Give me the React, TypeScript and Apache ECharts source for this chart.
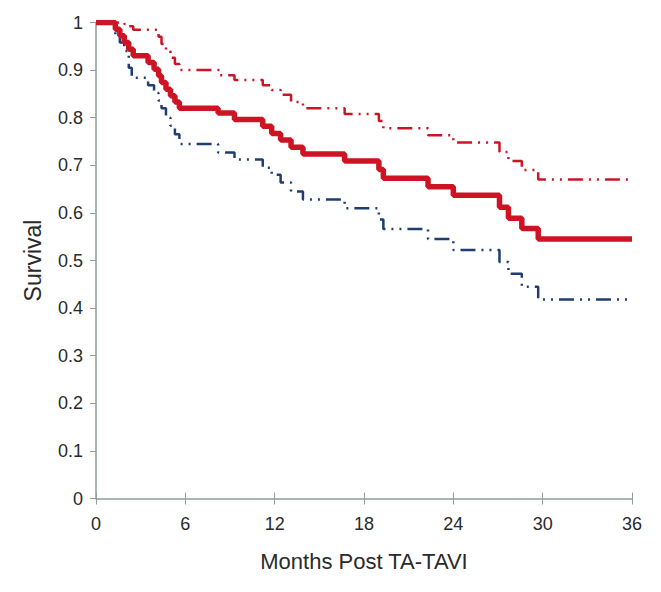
import React, { useEffect, useRef } from "react";
import * as echarts from "echarts";

// Kaplan-Meier estimate (months, survival)
const survTimes = [0, 1.3, 1.6, 1.9, 2.2, 2.5, 3.5, 3.9, 4.2, 4.4, 4.7, 5.0, 5.3, 5.6, 8.2, 9.3, 11.2, 11.8, 12.4, 13.1, 13.9, 16.7, 19.0, 19.3, 22.3, 24.0, 27.1, 27.7, 28.6, 29.7, 36];
const survValues = [1.0, 0.986, 0.972, 0.958, 0.944, 0.93, 0.916, 0.902, 0.888, 0.874, 0.86, 0.846, 0.833, 0.82, 0.81, 0.796, 0.782, 0.767, 0.753, 0.738, 0.724, 0.709, 0.691, 0.673, 0.655, 0.637, 0.612, 0.589, 0.567, 0.545, 0.545];

// Upper confidence limit
const upperTimes = [0, 1.9, 2.2, 2.5, 4.2, 4.4, 4.7, 5.0, 5.3, 5.6, 8.3, 9.3, 11.2, 11.8, 12.4, 13.1, 13.9, 16.7, 19.0, 19.3, 22.3, 24.0, 27.1, 27.7, 28.6, 29.7, 36];
const upperValues = [1.0, 0.997, 0.992, 0.985, 0.97, 0.955, 0.94, 0.926, 0.913, 0.9, 0.889, 0.879, 0.868, 0.858, 0.848, 0.833, 0.82, 0.808, 0.793, 0.778, 0.763, 0.748, 0.728, 0.709, 0.69, 0.67, 0.67];

// Lower confidence limit
const lowerTimes = [0, 1.3, 1.6, 1.9, 2.2, 2.4, 3.5, 3.9, 4.2, 4.4, 4.7, 5.0, 5.3, 5.6, 8.2, 9.3, 11.2, 11.8, 12.4, 13.1, 13.9, 16.7, 19.0, 19.3, 22.3, 24.0, 27.1, 27.7, 28.6, 29.7, 36];
const lowerValues = [1.0, 0.975, 0.958, 0.94, 0.905, 0.884, 0.868, 0.852, 0.836, 0.82, 0.8, 0.783, 0.765, 0.745, 0.727, 0.712, 0.695, 0.68, 0.664, 0.645, 0.628, 0.61, 0.586, 0.566, 0.545, 0.522, 0.497, 0.472, 0.445, 0.418, 0.418];

const xTicks = [0, 6, 12, 18, 24, 30, 36];
const yTickStep = 0.1;

const pairs = (t: number[], v: number[]) => t.map((x, i) => [x, v[i]]);

const FONT = "'Liberation Sans', Arial, sans-serif";
const AXIS_COLOR = "#8e9e9c";
const TEXT_COLOR = "#2a2a2a";
const RED = "#cc1424";
const NAVY = "#1f3d73";
const DASH = [15, 6, 2, 6, 2, 6];

export default function App() {
  const ref = useRef<HTMLDivElement>(null);
  useEffect(() => {
    document.body.style.margin = "0";
    const chart = echarts.init(ref.current!, null, { renderer: "svg" });
    chart.setOption({
      animation: false,
      backgroundColor: "#ffffff",
      grid: { left: 96, right: 29, top: 22.5, bottom: 93.5, containLabel: false },
      xAxis: [
        {
          type: "value",
          min: xTicks[0],
          max: xTicks[xTicks.length - 1],
          interval: 6,
          position: "bottom",
          name: "Months Post TA-TAVI",
          nameLocation: "middle",
          nameGap: 52,
          nameTextStyle: { fontFamily: FONT, fontSize: 22, color: TEXT_COLOR },
          axisLine: { show: true, onZero: false, lineStyle: { color: AXIS_COLOR, width: 1.5 } },
          axisTick: { show: true, inside: false, length: 6, lineStyle: { color: AXIS_COLOR, width: 1 } },
          axisLabel: { fontFamily: FONT, fontSize: 18, color: TEXT_COLOR, margin: 16 },
          splitLine: { show: false },
        },
        {
          type: "value",
          min: xTicks[0],
          max: xTicks[xTicks.length - 1],
          interval: 6,
          position: "bottom",
          offset: 0,
          axisLine: { show: false },
          axisTick: { show: true, inside: true, length: 6, lineStyle: { color: AXIS_COLOR, width: 1 } },
          axisLabel: { show: false },
          splitLine: { show: false },
        },
      ],
      yAxis: {
        type: "value",
        min: 0,
        max: 1,
        interval: yTickStep,
        name: "Survival",
        nameLocation: "middle",
        nameGap: 52,
        nameRotate: 90,
        nameTextStyle: { fontFamily: FONT, fontSize: 23, color: TEXT_COLOR },
        axisLine: { show: true, lineStyle: { color: AXIS_COLOR, width: 1.5 } },
        axisTick: { show: true, inside: false, length: 6, lineStyle: { color: AXIS_COLOR, width: 1 } },
        axisLabel: {
          fontFamily: FONT,
          fontSize: 18,
          color: TEXT_COLOR,
          margin: 13,
          formatter: (v: number) => (v === 0 ? "0" : v === 1 ? "1" : v.toFixed(1)),
        },
        splitLine: { show: false },
      },
      series: [
        {
          name: "Lower",
          type: "line",
          step: "end",
          xAxisIndex: 0,
          data: pairs(lowerTimes, lowerValues),
          symbol: "none",
          lineStyle: { color: NAVY, width: 2.5, type: DASH, cap: "butt" },
          z: 2,
        },
        {
          name: "Upper",
          type: "line",
          step: "end",
          xAxisIndex: 0,
          data: pairs(upperTimes, upperValues),
          symbol: "none",
          lineStyle: { color: RED, width: 2.5, type: DASH, cap: "butt" },
          z: 2,
        },
        {
          name: "Survival",
          type: "line",
          step: "end",
          xAxisIndex: 0,
          data: pairs(survTimes, survValues),
          symbol: "none",
          lineStyle: { color: RED, width: 5.5 },
          z: 3,
        },
      ],
    });
    return () => chart.dispose();
  }, []);
  return <div ref={ref} style={{ width: 661, height: 592 }} />;
}
